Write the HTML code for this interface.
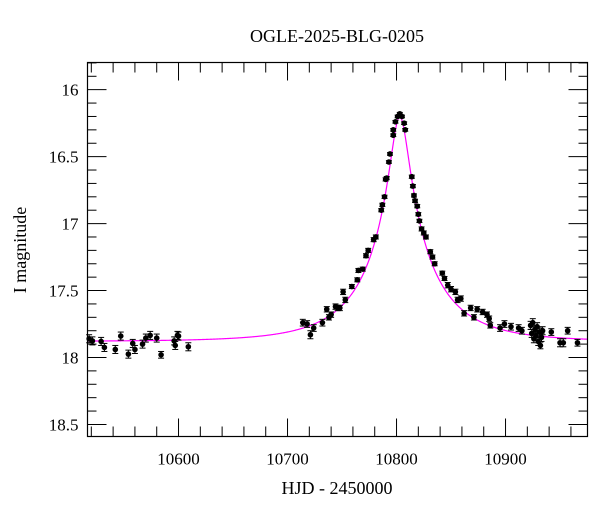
<!DOCTYPE html>
<html><head><meta charset="utf-8"><style>
html,body{margin:0;padding:0;background:#fff;}
svg{display:block;font-family:"Liberation Serif",serif;}
</style></head><body>
<svg id="chart" width="600" height="512" viewBox="0 0 600 512">
<text x="337" y="42" text-anchor="middle" font-size="18">OGLE-2025-BLG-0205</text>
<text x="337" y="494" text-anchor="middle" font-size="18">HJD - 2450000</text>
<text transform="translate(26,250) rotate(-90)" text-anchor="middle" font-size="18">I magnitude</text>
<g id="axes"></g>
<g id="fit"></g>
<g id="pts"></g>
<rect x="87.5" y="62.5" width="500" height="374" fill="none" stroke="#000" stroke-width="1.2"/>
</svg>
<script>
const times = [10518,10521,10529,10532,10542,10547,10554,10558,10560,10567,10570,10574,10580,10584,10596,10597,10599,10600,10609,
10714,10718,10721,10724,10732,10736,10738,10740,10744,10746,10748,10751,10753,10759,10764,10765,10769,10772,10774,10779,10781,
10786,10787,10789,10790,10791,10793,10794,10797,10797,10799,10801,10803,10805,10807,10808,
10814,10815,10816,10817,10819,10820,10821,10823,10825,10827,10831,10833,10835,10842,10844,10847,10850,10854,10856,10859,10862,10868,10871,10874,10879,10883,10886,10885,
10895,10899,10905,10912,10915,10923,10924,10925,10926,10927,10928,10929,10930,10931,10932,10933,10934,10942,10950,10953,10957,10966];
const mags = [17.86,17.876,17.88,17.925,17.94,17.84,17.975,17.895,17.94,17.90,17.855,17.835,17.855,17.98,17.876,17.91,17.835,17.84,17.92,
17.74,17.75,17.83,17.78,17.74,17.64,17.70,17.68,17.62,17.63,17.63,17.51,17.57,17.47,17.42,17.35,17.34,17.24,17.20,17.12,17.10,
16.90,16.86,16.80,16.67,16.66,16.54,16.48,16.34,16.30,16.24,16.20,16.18,16.20,16.25,16.30,
16.65,16.72,16.79,16.83,16.87,16.93,16.98,17.04,17.07,17.10,17.21,17.25,17.30,17.37,17.41,17.46,17.49,17.51,17.57,17.56,17.67,17.63,17.70,17.64,17.66,17.68,17.76,17.71,
17.78,17.75,17.77,17.78,17.80,17.76,17.82,17.74,17.86,17.79,17.84,17.77,17.88,17.81,17.91,17.85,17.80,17.81,17.89,17.89,17.80,17.89];
const errs = [0.03,0.03,0.03,0.03,0.03,0.03,0.03,0.03,0.03,0.03,0.03,0.03,0.03,0.025,0.03,0.03,0.03,0.03,0.03,
0.025,0.025,0.03,0.025,0.025,0.02,0.02,0.02,0.02,0.02,0.02,0.02,0.02,0.015,0.015,0.015,0.015,0.015,0.015,0.015,0.015,
0.012,0.012,0.012,0.012,0.012,0.01,0.01,0.01,0.01,0.01,0.01,0.01,0.01,0.01,0.01,
0.012,0.012,0.012,0.012,0.012,0.012,0.012,0.015,0.015,0.015,0.015,0.015,0.015,0.015,0.015,0.02,0.02,0.02,0.02,0.02,0.02,0.02,0.02,0.02,0.02,0.02,0.02,0.02,
0.025,0.025,0.025,0.025,0.025,0.03,0.03,0.03,0.03,0.03,0.03,0.03,0.03,0.03,0.025,0.03,0.03,0.025,0.03,0.03,0.025,0.025];
const xTicks = [10600,10700,10800,10900];
const yTicks = [16,16.5,17,17.5,18,18.5];
const fitT0 = 10803, fitU0 = 0.12, fitTE = 69, fitFs = 0.5, fitBase = 17.88;

const NS='http://www.w3.org/2000/svg';
const L=87.5,R=587.5,T=62.5,B=436.5;
const tMin=10516.5,tMax=10975.2,mMin=15.797,mMax=18.59;
function X(t){return L+(t-tMin)/(tMax-tMin)*(R-L);}
function Y(m){return T+(m-mMin)/(mMax-mMin)*(B-T);}
function mk(tag,attrs,parent){const e=document.createElementNS(NS,tag);for(const k in attrs)e.setAttribute(k,attrs[k]);parent.appendChild(e);return e;}

const axes=document.getElementById('axes');
function tick(x1,y1,x2,y2){const l=mk('line',{x1:x1,y1:y1,x2:x2,y2:y2,stroke:'#000','stroke-width':1},axes);

}
for(let t=10520;t<=10970;t+=20){const x=X(t);const major=(t%100===0);const len=major?18:10;
tick(x,B,x,B-len);tick(x,T,x,T+len);}
for(let i=158;i<=185;i++){const m=i/10;const y=Y(m);const major=(i%5===0);const len=major?19:9;
tick(L,y,L+len,y);tick(R,y,R-len,y);}
xTicks.forEach(t=>{const tx=mk('text',{x:X(t),y:B+28,'text-anchor':'middle','font-size':17},axes);tx.textContent=t;

});
yTicks.forEach(m=>{const tx=mk('text',{x:L-9,y:Y(m)+6,'text-anchor':'end','font-size':17},axes);tx.textContent=String(m);

});

// fit curve
const fit=document.getElementById('fit');
let d='';
for(let t=tMin;t<=tMax;t+=0.5){const tau=(t-fitT0)/fitTE;const u=Math.sqrt(fitU0*fitU0+tau*tau);
const A=(u*u+2)/(u*Math.sqrt(u*u+4));const F=fitFs*A+(1-fitFs);const m=fitBase-2.5*Math.log10(F);
d+=(d?'L':'M')+X(t).toFixed(2)+','+Y(m).toFixed(2);}
const path=mk('path',{d:d,fill:'none',stroke:'#ff00ff','stroke-width':1.2},fit);



// points
const pts=document.getElementById('pts');
times.forEach((t,i)=>{const x=X(t),y=Y(mags[i]);const y1=Y(mags[i]-errs[i]),y2=Y(mags[i]+errs[i]);
const g=mk('g',{},pts);


mk('line',{x1:x,y1:y1,x2:x,y2:y2,stroke:'#000','stroke-width':1},g);
mk('line',{x1:x-3,y1:y1,x2:x+3,y2:y1,stroke:'#000','stroke-width':1},g);
mk('line',{x1:x-3,y1:y2,x2:x+3,y2:y2,stroke:'#000','stroke-width':1},g);
mk('circle',{cx:x,cy:y,r:2.8,fill:'#000'},g);});
</script>
</body></html>
